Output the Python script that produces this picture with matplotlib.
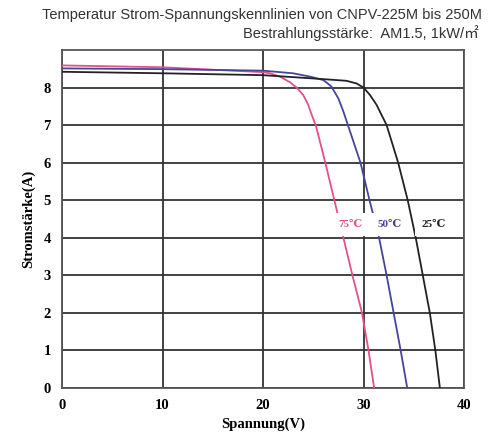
import matplotlib
matplotlib.use('Agg')
import matplotlib.pyplot as plt

# I-V curves
v_75 = [0, 10, 20, 20.7, 21.7, 22.7, 23.35, 24.0, 24.5, 24.85, 25.25, 26.2, 27.1, 28.0, 28.9, 29.85, 30.5, 31.06]
i_75 = [8.59, 8.54, 8.41, 8.38, 8.29, 8.14, 8.0, 7.8, 7.54, 7.27, 7.0, 6.0, 5.0, 4.0, 3.0, 2.0, 1.0, 0]

v_50 = [0, 10, 20, 23, 24.7, 26.0, 26.8, 27.5, 28.0, 28.45, 29.7, 30.6, 31.55, 32.3, 33.0, 33.7, 34.35]
i_50 = [8.51, 8.49, 8.45, 8.38, 8.29, 8.2, 8.03, 7.71, 7.36, 7.0, 6.0, 5.0, 4.0, 3.0, 2.0, 1.0, 0]

v_25 = [0, 10, 20, 25.7, 28.3, 29.3, 30.0, 30.65, 31.3, 31.8, 32.3, 33.45, 34.4, 35.2, 35.9, 36.6, 37.15, 37.6]
i_25 = [8.42, 8.38, 8.33, 8.23, 8.18, 8.11, 8.0, 7.8, 7.54, 7.27, 7.0, 6.0, 5.0, 4.0, 3.0, 2.0, 1.0, 0]

curve_labels = ['75℃', '50℃', '25℃']
label_x = [28.76, 32.6, 37.0]
label_y = [4.35, 4.35, 4.35]

x_ticks = [0, 10, 20, 30, 40]
y_ticks = [0, 1, 2, 3, 4, 5, 6, 7, 8]

colors = ['#e4508a', '#45459a', '#222222']

serif = ['Liberation Serif', 'DejaVu Serif']

fig = plt.figure(figsize=(5.01, 4.34), dpi=100)
ax = fig.add_axes([62/501, 1-388/434, (464-62)/501, (388-50)/434])

ax.plot(v_75, i_75, color=colors[0], lw=1.3, zorder=3)
ax.plot(v_50, i_50, color=colors[1], lw=1.3, zorder=3)
ax.plot(v_25, i_25, color=colors[2], lw=1.3, zorder=3)

ax.set_xlim(0, 40)
ax.set_ylim(0, 9)
ax.set_xticks(x_ticks)
ax.set_yticks(y_ticks)
ax.grid(True, color='#333333', lw=1.3, zorder=1)
ax.set_axisbelow(True)
ax.tick_params(length=0, pad=8)
for lab in ax.get_xticklabels() + ax.get_yticklabels():
    lab.set_family(serif)
    lab.set_fontweight('bold')
    lab.set_fontsize(10.5)
for sp in ax.spines.values():
    sp.set_color('#555555')
    sp.set_linewidth(1.3)

for txt, x, y, c in zip(curve_labels, label_x, label_y, colors):
    ax.text(x, y, txt, color=c, fontsize=8, fontweight='bold', family=serif,
            ha='center', va='center', zorder=4,
            bbox=dict(facecolor='white', edgecolor='none', boxstyle='square,pad=0.6'))

ax.set_xlabel('Spannung(V)', family=serif, fontweight='bold', fontsize=10.5, labelpad=4)
ax.set_ylabel('Stromstärke(A)', family=serif, fontweight='bold', fontsize=10.5, labelpad=6)

fig.text(262/501, 1-15/434, 'Temperatur Strom-Spannungskennlinien von CNPV-225M bis 250M',
         ha='center', va='center', fontsize=10.5, color='#333333',
         family=['Liberation Sans', 'DejaVu Sans'])
fig.text(479/501, 1-33/434, 'Bestrahlungsstärke:  AM1.5, 1kW/㎡',
         ha='right', va='center', fontsize=10.5, color='#333333',
         family=['Liberation Sans', 'Noto Sans CJK SC', 'DejaVu Sans'])

fig.savefig('out.png', dpi=100)
